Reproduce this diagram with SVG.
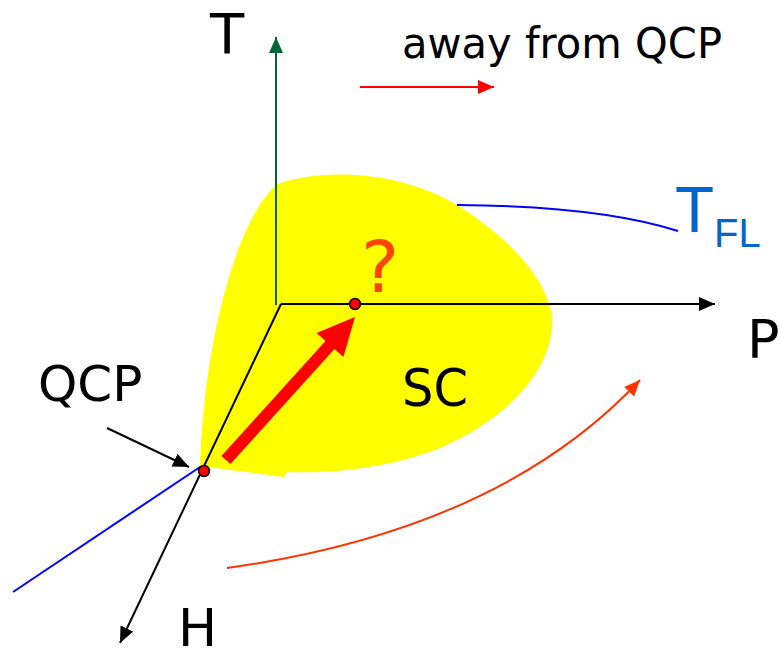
<svg xmlns="http://www.w3.org/2000/svg" width="780" height="661" viewBox="0 0 780 661">
<style>
.lbl{font-family:"DejaVu Sans","Open Sans",sans-serif;fill:#000}
.ax{fill:none;stroke:#000;stroke-width:2}
</style>
<defs>
<marker id="ab" markerUnits="userSpaceOnUse" markerWidth="18" markerHeight="16" refX="16" refY="7" orient="auto"><path d="M0,0 L16,7 L0,14 Z" fill="#000"/></marker>
<marker id="ag" markerUnits="userSpaceOnUse" markerWidth="18" markerHeight="16" refX="16" refY="7" orient="auto"><path d="M0,0 L16,7 L0,14 Z" fill="#006633"/></marker>
<marker id="ar" markerUnits="userSpaceOnUse" markerWidth="18" markerHeight="16" refX="16" refY="7" orient="auto"><path d="M0,0 L16,7 L0,14 Z" fill="#ff0000"/></marker>
<marker id="ao" markerUnits="userSpaceOnUse" markerWidth="18" markerHeight="16" refX="16" refY="7" orient="auto"><path d="M0,0 L16,7 L0,14 Z" fill="#ff3300"/></marker>
</defs>
<g id="sc-region">
<path d="M200,466 C204,340 238,215 278,184 C320,168 400,170 457,205 C505,235 545,275 552,315 C556,370 505,420 440,448 C390,468 330,474 287,472 L284,477 Z" fill="#ffff00"/>
<text class="lbl" x="402" y="406" font-size="52" textLength="66" lengthAdjust="spacingAndGlyphs">SC</text>
</g>
<g id="connectors">
<line x1="276" y1="305" x2="276" y2="37" stroke="#006633" stroke-width="2" marker-end="url(#ag)"/>
<line class="ax" x1="281" y1="304" x2="715" y2="304" marker-end="url(#ab)"/>
<line class="ax" x1="281" y1="304" x2="120" y2="643" marker-end="url(#ab)"/>
<line x1="200" y1="467" x2="13" y2="592" stroke="#0000ff" stroke-width="2"/>
<path d="M457,205 Q600,206 678,231" fill="none" stroke="#0000ff" stroke-width="2"/>
<line class="ax" x1="107" y1="428" x2="189" y2="467" marker-end="url(#ab)"/>
<line x1="360" y1="87" x2="494" y2="87" stroke="#ff0000" stroke-width="2" marker-end="url(#ar)"/>
<path d="M227,568 Q500,530 640,380" fill="none" stroke="#ff3300" stroke-width="2" marker-end="url(#ao)"/>
<polygon points="221.5,456 325.5,341 316.6,333 355,317 343.4,357 334.5,349 230.5,464" fill="#ff0000"/>
</g>
<g id="qcp-point">
<circle cx="204" cy="471" r="5.5" fill="#ff0000" stroke="#000" stroke-width="1.5"/>
<text class="lbl" x="38" y="401" font-size="50">QCP</text>
</g>
<g id="question-point">
<circle cx="355" cy="304" r="5.5" fill="#ff0000" stroke="#000" stroke-width="1.5"/>
<text class="lbl" x="361" y="292" font-size="72" style="fill:#ff4400">?</text>
</g>
<g id="labels">
<text class="lbl" x="227" y="53" font-size="56" text-anchor="middle">T</text>
<text class="lbl" x="402" y="58" font-size="42" textLength="320" lengthAdjust="spacingAndGlyphs">away from QCP</text>
<text class="lbl" x="178" y="646" font-size="52">H</text>
<text class="lbl" x="747" y="358" font-size="54">P</text>
<text x="675" y="232" font-family="Liberation Sans, Arial, sans-serif" font-size="64" fill="#0066cc">T<tspan x="714" y="247" font-size="40">FL</tspan></text>
</g>
</svg>
